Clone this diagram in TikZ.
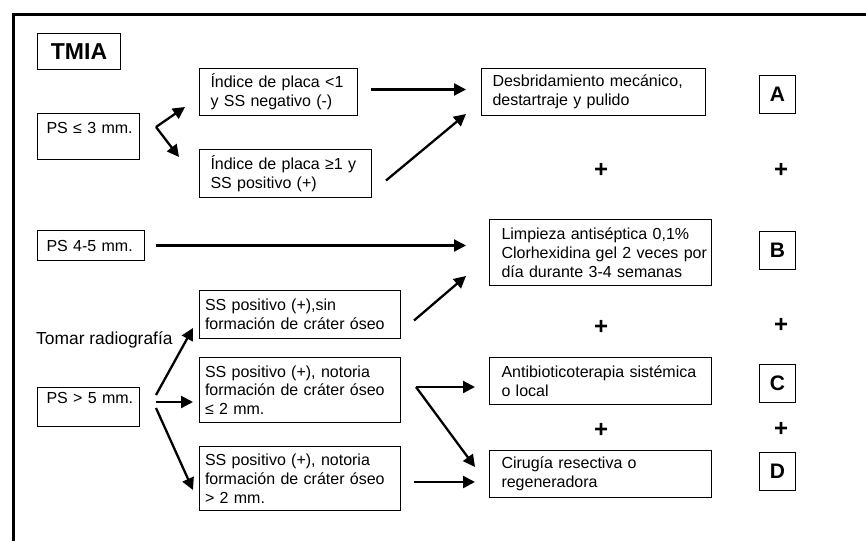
\documentclass[tikz,border=0pt]{standalone}
\usepackage{fontspec}
\setmainfont{Liberation Sans}
\usetikzlibrary{arrows.meta,calc}
\newcommand\lb[1]{\mbox{#1}}
\tikzset{
  box/.style={draw, line width=1pt, anchor=north west, align=left, inner ysep=0pt,
    font=\fontsize{16}{18.8}\selectfont},
  letterbox/.style={draw, line width=1pt, anchor=north west, inner sep=0pt,
    minimum width=36pt, minimum height=38pt, font=\fontsize{21}{24}\selectfont\bfseries},
  plus/.style={font=\fontsize{24}{26}\selectfont\bfseries, inner sep=0pt},
  arr/.style={line width=2.3pt, -{Triangle[length=12pt,width=12pt]}},
  frame/.style={line width=3pt},
}
\begin{document}
\begin{tikzpicture}[x=1pt,y=-1pt]
\useasboundingbox (0,0) rectangle (866,541);
\draw[frame] (13,541) -- (13,14) -- (866,14);

% left column
\node[draw, line width=1pt, anchor=north west, minimum width=83pt, minimum height=36pt,
  font=\fontsize{23}{26}\selectfont\bfseries, inner sep=0pt] (tmia) at (37,33) {TMIA};
\node[box, minimum width=102pt, minimum height=46pt, text width=84pt, inner xsep=9pt,
  text depth=26pt, text height=20pt] (ps3) at (37,113) {\lb{PS ≤ 3 mm.}};
\node[box, minimum width=107pt, minimum height=30pt, text width=89pt, inner xsep=9pt] (ps45) at (37,230) {\lb{PS 4-5 mm.}};
\node[box, minimum width=102pt, minimum height=39pt, text width=84pt, inner xsep=9pt,
  text depth=23pt, text height=16pt] (ps5) at (37,387) {\lb{PS > 5 mm.}};
\node[anchor=west, inner sep=0pt, font=\fontsize{17.4}{20}\selectfont] (tomar) at (36,340) {Tomar radiografía};

% middle column
\node[box, minimum width=158pt, minimum height=47pt, text width=136pt, inner xsep=11pt] (i1) at (199,68) {\lb{Índice de placa <1}\\\lb{y SS negativo (-)}};
\node[box, minimum width=172pt, minimum height=48pt, text width=150pt, inner xsep=11pt] (i2) at (199,149) {\lb{Índice de placa ≥1 y}\\\lb{SS positivo (+)}};
\node[box, minimum width=201pt, minimum height=48pt, text width=190pt, inner xsep=5.5pt] (s1) at (199,290) {\lb{SS positivo (+),sin}\\\lb{formación de cráter óseo}};
\node[box, minimum width=201pt, minimum height=65pt, text width=190pt, inner xsep=5.5pt] (s2) at (199,357) {\lb{SS positivo (+), notoria}\\\lb{formación de cráter óseo}\\\lb{≤ 2 mm.}};
\node[box, minimum width=201pt, minimum height=64pt, text width=190pt, inner xsep=5.5pt] (s3) at (199,446) {\lb{SS positivo (+), notoria}\\\lb{formación de cráter óseo}\\\lb{> 2 mm.}};

% right column
\node[box, minimum width=224pt, minimum height=47pt, text width=202pt, inner xsep=11pt] (desb) at (481,68) {\lb{Desbridamiento mecánico,}\\\lb{destartraje y pulido}};
\node[box, minimum width=222pt, minimum height=66pt, text width=198pt, inner xsep=12pt] (limp) at (489,219) {\lb{Limpieza antiséptica 0,1\%}\\\lb{Clorhexidina gel 2 veces por}\\\lb{día durante 3-4 semanas}};
\node[box, minimum width=222pt, minimum height=47pt, text width=198pt, inner xsep=12pt] (antib) at (489,357) {\lb{Antibioticoterapia sistémica}\\\lb{o local}};
\node[box, minimum width=222pt, minimum height=47pt, text width=198pt, inner xsep=12pt] (cir) at (489,450) {\lb{Cirugía resectiva o}\\\lb{regeneradora}};

% letters
\node[letterbox] (A) at (759,75) {A};
\node[letterbox] (B) at (759,231) {B};
\node[letterbox] (C) at (759,364) {C};
\node[letterbox] (D) at (759,452) {D};

% plus signs
\node[plus] (p1) at (601,170) {+};
\node[plus] (p2) at (781,170) {+};
\node[plus] (p3) at (601,327) {+};
\node[plus] (p4) at (781,325) {+};
\node[plus] (p5) at (601,430) {+};
\node[plus] (p6) at (781,429) {+};

% connectors
\coordinate (v3) at ($(ps3.north east)+(16,14)$);
\draw[arr] (v3) -- ($(i1.south west)+(-14,-9)$);
\draw[arr] (v3) -- ($(i2.north west)+(-20,8)$);
\draw[arr, shorten <=13pt, shorten >=15pt] ($(i1.east)+(0,-2.5)$) -- ($(desb.west)+(0,-2.5)$);
\draw[arr] ($(i2.east)+(14,7)$) -- ($(desb.south west)+(-15,-2)$);
\draw[arr, shorten <=11pt, shorten >=23pt] (ps45.east) -- (ps45.east -| limp.west);
\draw[arr] ($(s1.east)+(13,6)$) -- ($(limp.south west)+(-23,-10)$);

\draw[arr] ($(ps5.north east)+(16,8)$) -- ($(s1.south west)+(-6,-11)$);
\draw[arr] ($(ps5.north east)+(16,15)$) -- ($(s2.north west)+(-6,45)$);
\draw[arr] ($(ps5.north east)+(16,21)$) -- ($(s3.north west)+(-6,44)$);

\coordinate (v2) at ($(s2.north east)+(15,30)$);
\draw[arr] (v2) -- ($(antib.north west)+(-14,30)$);
\draw[arr] (v2) -- ($(cir.north west)+(-14,17)$);
\draw[arr] ($(s3.north east)+(13,36)$) -- ($(cir.north west)+(-14,32)$);
\end{tikzpicture}
\end{document}
